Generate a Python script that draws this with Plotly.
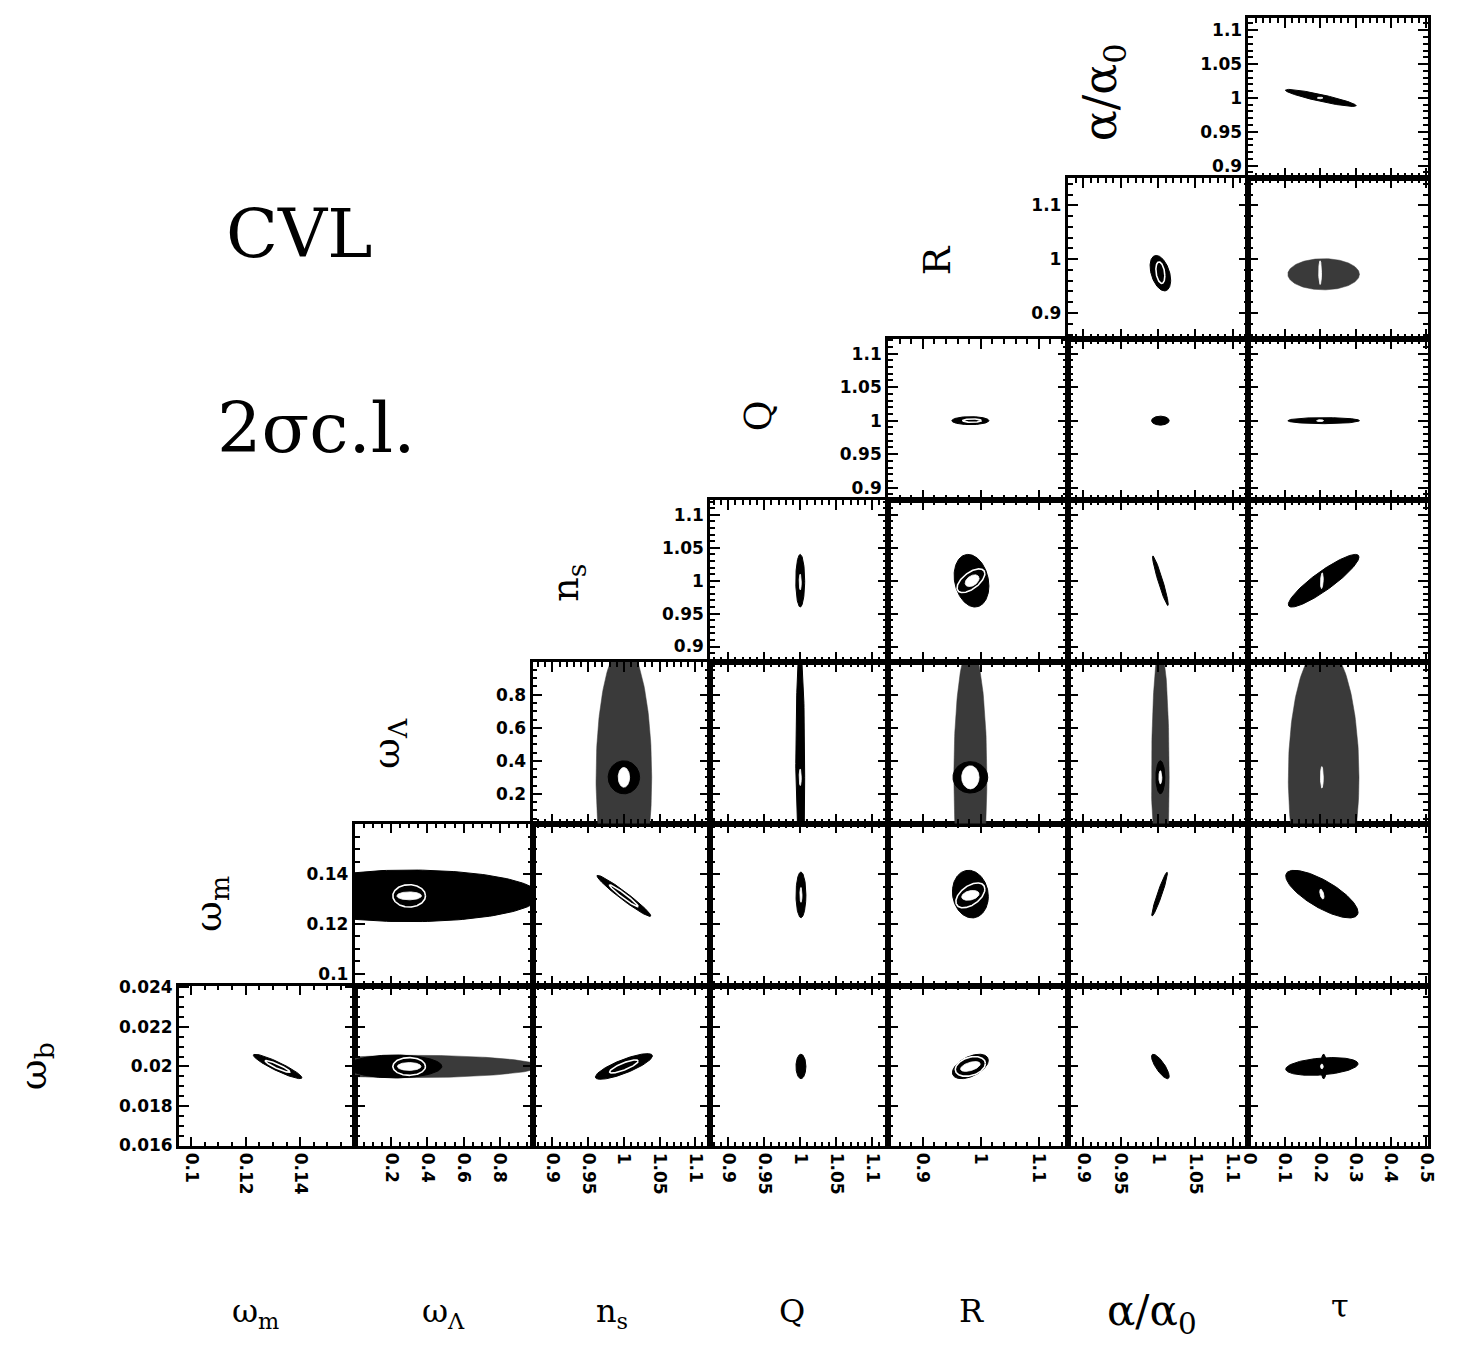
import numpy as np
import plotly.graph_objects as go

W, H = 1463, 1352          # target picture size
PAGE_MARGIN = 8            # default body margin of the html page
FW, FH = W - 2 * PAGE_MARGIN, H - 2 * PAGE_MARGIN

# ---------------- data ----------------
PARAMS = ["wb", "wm", "wL", "ns", "Q", "R", "alpha", "tau"]
LABELS = {"wb": "ω<sub>b</sub>", "wm": "ω<sub>m</sub>", "wL": "ω<sub>Λ</sub>",
          "ns": "n<sub>s</sub>", "Q": "Q", "R": "R",
          "alpha": "α/α<sub>0</sub>", "tau": "τ"}

X_RANGE = {"wm": [0.0955, 0.16], "wL": [0.0, 0.98], "ns": [0.872, 1.121],
           "Q": [0.875, 1.122], "R": [0.84, 1.15], "alpha": [0.879, 1.121],
           "tau": [-0.002, 0.505]}
Y_RANGE = {"wb": [0.01595, 0.0241], "wm": [0.0952, 0.1604], "wL": [0.02, 1.0],
           "ns": [0.877, 1.123], "Q": [0.882, 1.122], "R": [0.852, 1.151],
           "alpha": [0.882, 1.118]}

TICK_VALS = {"wb": [0.016, 0.018, 0.02, 0.022, 0.024],
             "wm": [0.1, 0.12, 0.14],
             "wL": [0.2, 0.4, 0.6, 0.8],
             "ns": [0.9, 0.95, 1.0, 1.05, 1.1],
             "Q": [0.9, 0.95, 1.0, 1.05, 1.1],
             "R": [0.9, 1.0, 1.1],
             "alpha": [0.9, 0.95, 1.0, 1.05, 1.1],
             "tau": [0.0, 0.1, 0.2, 0.3, 0.4, 0.5]}
TICK_TEXT = {"wb": ["0.016", "0.018", "0.02", "0.022", "0.024"],
             "wm": ["0.1", "0.12", "0.14"],
             "wL": ["0.2", "0.4", "0.6", "0.8"],
             "ns": ["0.9", "0.95", "1", "1.05", "1.1"],
             "Q": ["0.9", "0.95", "1", "1.05", "1.1"],
             "R": ["0.9", "1", "1.1"],
             "alpha": ["0.9", "0.95", "1", "1.05", "1.1"],
             "tau": ["0", "0.1", "0.2", "0.3", "0.4", "0.5"]}
MINOR_STEP = {"wb": 0.0005, "wm": 0.005, "wL": 0.05, "ns": 0.01, "Q": 0.01,
              "R": 0.02, "alpha": 0.01, "tau": 0.02}

# 2-sigma confidence ellipses: x-param, y-param, centre, half extents, correlation, layer
ELL_X = ["tau", "tau",
         "alpha", "alpha", "tau", "tau",
         "R", "R", "alpha", "tau", "tau",
         "Q", "Q", "R", "R", "R", "alpha", "tau", "tau",
         "ns", "ns", "ns", "Q", "Q", "R", "R", "R", "alpha", "alpha", "alpha", "tau", "tau",
         "wL", "wL", "wL", "ns", "ns", "Q", "Q", "R", "R", "R", "alpha", "tau", "tau",
         "wm", "wm", "wL", "wL", "wL", "wL", "ns", "ns", "Q", "R", "R", "R", "alpha", "tau", "tau", "tau"]
ELL_Y = ["alpha", "alpha",
         "R", "R", "R", "R",
         "Q", "Q", "Q", "Q", "Q",
         "ns", "ns", "ns", "ns", "ns", "ns", "ns", "ns",
         "wL", "wL", "wL", "wL", "wL", "wL", "wL", "wL", "wL", "wL", "wL", "wL", "wL",
         "wm", "wm", "wm", "wm", "wm", "wm", "wm", "wm", "wm", "wm", "wm", "wm", "wm",
         "wb", "wb", "wb", "wb", "wb", "wb", "wb", "wb", "wb", "wb", "wb", "wb", "wb", "wb", "wb", "wb"]
ELL_CX = [0.202, 0.2,
          1.003, 1.003, 0.21, 0.2,
          0.982, 0.985, 1.003, 0.21, 0.2,
          1.0, 1.0, 0.984, 0.985, 0.983, 1.003, 0.21, 0.205,
          1.0, 1.0, 1.0, 1.0, 1.0, 0.982, 0.982, 0.982, 1.003, 1.003, 1.003, 0.21, 0.205,
          0.3, 0.3, 0.3, 1.0, 1.0, 1.001, 1.001, 0.982, 0.982, 0.982, 1.002, 0.205, 0.205,
          0.1317, 0.1317, 0.3, 0.22, 0.3, 0.3, 1.0, 1.0, 1.001, 0.982, 0.982, 0.982, 1.003, 0.205, 0.21, 0.205]
ELL_CY = [1.0, 1.0,
          0.974, 0.975, 0.972, 0.975,
          1.0, 1.0, 1.0, 1.0, 1.0,
          1.0, 0.998, 1.0, 1.0, 1.0, 1.0, 1.0, 1.0,
          0.3, 0.3, 0.3, 0.3, 0.3, 0.3, 0.3, 0.3, 0.3, 0.3, 0.3, 0.3, 0.3,
          0.1313, 0.1313, 0.1313, 0.1313, 0.1313, 0.1317, 0.1317, 0.132, 0.1315, 0.1315, 0.132, 0.132, 0.132,
          0.02, 0.02, 0.02, 0.02, 0.02, 0.02, 0.02, 0.02, 0.02, 0.02, 0.02, 0.02, 0.02, 0.02, 0.02, 0.02]
ELL_HX = [0.10, 0.008,
          0.0138, 0.006, 0.101, 0.004,
          0.032, 0.016, 0.0118, 0.101, 0.01,
          0.0062, 0.0015, 0.030, 0.012, 0.024, 0.0105, 0.0997, 0.004,
          0.039, 0.022, 0.008, 0.0062, 0.0015, 0.0285, 0.030, 0.015, 0.0118, 0.006, 0.002, 0.0997, 0.004,
          0.72, 0.068, 0.09, 0.0377, 0.02, 0.0069, 0.0015, 0.031, 0.015, 0.025, 0.0105, 0.102, 0.006,
          0.0089, 0.0045, 0.72, 0.26, 0.065, 0.09, 0.040, 0.02, 0.0069, 0.031, 0.017, 0.026, 0.0118, 0.102, 0.008, 0.004]
ELL_HY = [0.0126, 0.0012,
          0.033, 0.02, 0.029, 0.022,
          0.006, 0.0025, 0.0067, 0.0045, 0.0015,
          0.040, 0.012, 0.040, 0.009, 0.018, 0.0377, 0.040, 0.012,
          0.8, 0.1, 0.06, 0.8, 0.05, 0.8, 0.095, 0.07, 0.8, 0.1, 0.04, 0.8, 0.065,
          0.0104, 0.0016, 0.0045, 0.0083, 0.0044, 0.0092, 0.003, 0.0096, 0.002, 0.005, 0.0088, 0.0096, 0.002,
          0.00062, 0.0003, 0.00057, 0.00058, 0.0002, 0.00045, 0.00065, 0.00033, 0.00062, 0.00062, 0.00025, 0.0005, 0.00062, 0.00045, 0.00062, 0.00012]
ELL_RHO = [-0.91, 0.0,
           -0.4, -0.3, 0.0, 0.0,
           0.0, 0.0, 0.0, 0.0, 0.0,
           0.0, 0.0, -0.2, 0.4, 0.6, -0.95, 0.9, 0.3,
           0.0, 0.0, 0.0, 0.0, 0.0, 0.0, 0.0, 0.0, 0.0, 0.0, 0.0, 0.0, 0.0,
           0.0, 0.0, 0.0, -0.97, -0.97, 0.0, 0.0, -0.1, 0.3, 0.5, 0.95, -0.76, -0.5,
           -0.92, -0.92, 0.0, 0.0, 0.0, 0.0, 0.82, 0.82, 0.0, 0.5, 0.5, 0.3, -0.8, 0.3, 0.0, 0.0]
ELL_LAYER = ["outer", "hole",
             "outer", "ring", "wide", "hole",
             "outer", "ring", "outer", "outer", "hole",
             "outer", "hole", "outer", "hole", "ring", "outer", "outer", "hole",
             "wide", "outer", "hole", "outer", "hole", "wide", "outer", "hole", "wide", "outer", "hole", "wide", "hole",
             "outer", "hole", "ring", "outer", "ring", "outer", "hole", "outer", "hole", "ring", "outer", "outer", "hole",
             "outer", "ring", "wide", "outer", "hole", "ring", "outer", "ring", "outer", "outer", "hole", "ring", "outer", "outer", "outer", "hole"]

# ---------------- layout geometry (target-picture pixels) ----------------
COL_EDGES = [172, 350, 530, 710, 890, 1072, 1255, 1437]
ROW_EDGES = [10, 172, 335, 498, 662, 826, 990, 1153]

def fx(px):
    return (px - PAGE_MARGIN) / FW

def fy(py):
    return 1 - (py - PAGE_MARGIN) / FH

fig = go.Figure()
layout = {}
panel_id = {}
k = 0
tickfont = dict(family="DejaVu Sans", size=17, color="black", weight="bold")
for i in range(7):
    for j in range(i + 1, 8):
        k += 1
        xp, yp = PARAMS[j], PARAMS[i]
        panel_id[(xp, yp)] = k
        c, r = j - 1, 6 - i
        xname = "xaxis" if k == 1 else f"xaxis{k}"
        yname = "yaxis" if k == 1 else f"yaxis{k}"
        common = dict(showline=True, linewidth=2.8, linecolor="black", mirror="allticks",
                      ticks="inside", ticklen=10, tickwidth=2, tickcolor="black",
                      showgrid=False, zeroline=False, tickmode="array", tickfont=tickfont,
                      fixedrange=True)
        layout[xname] = dict(common,
                             domain=[fx(COL_EDGES[c]), fx(COL_EDGES[c + 1])],
                             range=X_RANGE[xp], anchor=f"y{k}",
                             tickvals=TICK_VALS[xp], ticktext=TICK_TEXT[xp],
                             showticklabels=(i == 0), tickangle=90,
                             minor=dict(ticks="inside", ticklen=5, tickwidth=1.5, tickcolor="black",
                                        tickmode="linear", tick0=0, dtick=MINOR_STEP[xp]))
        layout[yname] = dict(common,
                             domain=[fy(ROW_EDGES[r + 1]), fy(ROW_EDGES[r])],
                             range=Y_RANGE[yp], anchor=f"x{k}",
                             tickvals=TICK_VALS[yp], ticktext=TICK_TEXT[yp],
                             showticklabels=(j == i + 1),
                             minor=dict(ticks="inside", ticklen=5, tickwidth=1.5, tickcolor="black",
                                        tickmode="linear", tick0=0, dtick=MINOR_STEP[yp]))

STYLE = {
    "wide": dict(fill="toself", fillcolor="#3a3a3a", line=dict(color="#3a3a3a", width=0.5)),
    "outer": dict(fill="toself", fillcolor="black", line=dict(color="black", width=1)),
    "hole": dict(fill="toself", fillcolor="white", line=dict(color="white", width=0.8)),
    "ring": dict(fill="none", line=dict(color="white", width=1.6)),
}

t = np.linspace(0, 2 * np.pi, 181)
for n in range(len(ELL_X)):
    k = panel_id[(ELL_X[n], ELL_Y[n])]
    rho = ELL_RHO[n]
    xs = ELL_CX[n] + ELL_HX[n] * np.cos(t)
    ys = ELL_CY[n] + ELL_HY[n] * (rho * np.cos(t) + np.sqrt(1 - rho ** 2) * np.sin(t))
    fig.add_trace(go.Scatter(x=xs, y=ys, mode="lines", xaxis=f"x{k}", yaxis=f"y{k}",
                             hoverinfo="skip", showlegend=False, **STYLE[ELL_LAYER[n]]))

# ---------------- annotations ----------------
ann = []
ROW_LABEL_POS = {"alpha": (1108, 85), "R": (939, 255), "Q": (758, 413), "ns": (566, 582),
                 "wL": (384, 745), "wm": (204, 908), "wb": (27, 1072)}
for p, (px, py) in ROW_LABEL_POS.items():
    size = 46 if p == "alpha" else 38
    ann.append(dict(text=LABELS[p], x=fx(px), y=fy(py), xref="paper", yref="paper",
                    showarrow=False, textangle=-90,
                    font=dict(family="DejaVu Serif", size=size, color="black"),
                    xanchor="center", yanchor="middle"))
COL_LABEL_POS = {"wm": (250, 1322), "wL": (440, 1322), "ns": (610, 1322), "Q": (793, 1320),
                 "R": (975, 1320), "alpha": (1157, 1322), "tau": (1348, 1315)}
for p, (px, py) in COL_LABEL_POS.items():
    size = 42 if p == "alpha" else 32
    ann.append(dict(text=LABELS[p], x=fx(px), y=fy(py), xref="paper", yref="paper",
                    showarrow=False, font=dict(family="DejaVu Serif", size=size, color="black"),
                    xanchor="center", yanchor="middle"))
ann.append(dict(text="CVL", x=fx(294), y=fy(228), xref="paper", yref="paper", showarrow=False,
                font=dict(family="DejaVu Serif", size=68, color="black"),
                xanchor="center", yanchor="middle"))
ann.append(dict(text="2σc.l.", x=fx(311), y=fy(425), xref="paper", yref="paper", showarrow=False,
                font=dict(family="DejaVu Serif", size=70, color="black"),
                xanchor="center", yanchor="middle"))

fig.update_layout(width=FW, height=FH, autosize=False,
                  margin=dict(l=0, r=0, t=0, b=0),
                  paper_bgcolor="white", plot_bgcolor="white",
                  annotations=ann, **layout)

fig.write_html("out.html", config={"displayModeBar": False})
